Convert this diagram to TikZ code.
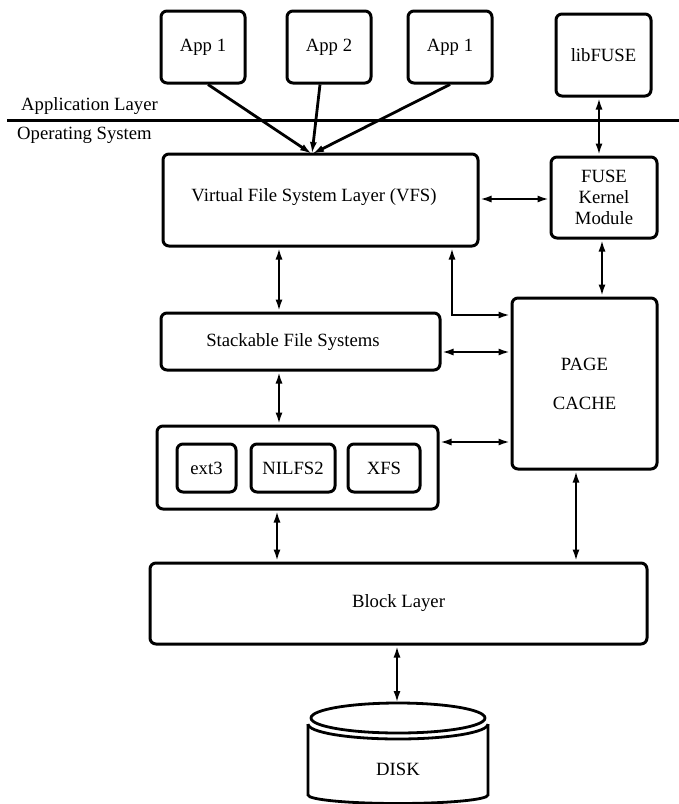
\documentclass[tikz,border=0pt]{standalone}
\usepackage{fontspec}
\setmainfont{Liberation Serif}
\usetikzlibrary{arrows.meta,calc}
\begin{document}
\begin{tikzpicture}[x=1pt,y=-1pt,
  font=\fontsize{18.7}{21}\selectfont,
  box/.style={draw, line width=3pt, rounded corners=6pt, inner sep=0pt, align=center},
  conn/.style={line width=2.8pt, -{Latex[length=12pt,width=7pt]}},
  dbl/.style={line width=2.8pt, {Latex[length=12pt,width=7pt]}-{Latex[length=12pt,width=7pt]}},
]
\useasboundingbox (0,0) rectangle (679,804);

% layer separator
\coordinate (sepL) at (7,120);
\coordinate (sepR) at (679,120);
\draw[line width=3pt] (sepL) -- (sepR);
\node[anchor=base west, inner sep=0pt] (applayer) at (21,110) {Application Layer};
\node[anchor=base west, inner sep=0pt] (oslayer) at (17,139) {Operating System};

% user space
\node[box, minimum width=84pt, minimum height=72pt] (app1) at (203,47) {App 1};
\node[box, minimum width=84pt, minimum height=72pt] (app2) at (329,47) {App 2};
\node[box, minimum width=84pt, minimum height=72pt] (app3) at (450,47) {App 1};
\node[box, minimum width=95pt, minimum height=82pt] (libfuse) at (603.5,55) {libFUSE};

% kernel
\node[box, minimum width=315pt, minimum height=92pt] (vfs) at (320.5,200) {};
\node (vfstext) at (314,197) {Virtual File System Layer (VFS)};
\node[box, minimum width=106pt, minimum height=81pt] (fuse) at (604,197.5) {FUSE\\Kernel\\Module};
\node[box, minimum width=279pt, minimum height=57pt] (stack) at (300.5,341.5) {};
\node (stacktext) at (293,342) {Stackable File Systems};
\node[box, minimum width=145pt, minimum height=171pt] (page) at (584.5,383.5) {PAGE\\[18pt]CACHE};
\node[box, minimum width=281pt, minimum height=83pt] (fsgroup) at (297.5,467.5) {};
\node[box, minimum width=59pt, minimum height=48pt] (ext) at (206.5,468) {ext3};
\node[box, minimum width=84pt, minimum height=48pt] (nilfs) at (293,468) {NILFS2};
\node[box, minimum width=72pt, minimum height=48pt] (xfs) at (384,468) {XFS};
\node[box, minimum width=497pt, minimum height=81pt] (block) at (398.5,603.5) {Block Layer};

% disk
\coordinate (disktop) at (397,703);
\draw[line width=2.8pt] (308,724) -- (308,795)
  arc[start angle=180, end angle=0, x radius=90, y radius=8.5] -- (488,724);
\draw[line width=2.8pt] (308,724) arc[start angle=180, end angle=0, x radius=90, y radius=15];
\draw[line width=2.8pt, fill=white] (398,718) ellipse [x radius=87, y radius=15];
\node (disk) at (398,769) {DISK};

% arrow positions
\coordinate (vfsin) at (312,154);
\coordinate (xa) at (279,0);
\coordinate (xb) at (277,0);
\coordinate (xl) at (452,0);
\coordinate (yl) at (0,315);
\coordinate (yf) at (0,199);
\coordinate (ys) at (0,352);
\coordinate (yg) at (0,442);
\coordinate (xp) at (576,0);
\coordinate (xf) at (599,0);
\coordinate (xk) at (602,0);
\coordinate (x1) at (208,0);
\coordinate (x2) at (320,0);
\coordinate (x3) at (450,0);

% connectors
\draw[conn] (app1.south -| x1) -- (vfsin);
\draw[conn] (app2.south -| x2) -- (vfsin);
\draw[conn] (app3.south -| x3) -- (vfsin);
\draw[dbl] (libfuse.south -| xf) -- (fuse.north -| xf);
\draw[dbl] (vfs.east |- yf) -- (fuse.west |- yf);
\draw[dbl] (fuse.south -| xk) -- (page.north -| xk);
\draw[dbl] (vfs.south -| xa) -- (stack.north -| xa);
\draw[dbl] (vfs.south -| xl) -- (xl |- yl) -- (page.west |- yl);
\draw[dbl] (stack.east |- ys) -- (page.west |- ys);
\draw[dbl] (stack.south -| xa) -- (fsgroup.north -| xa);
\draw[dbl] (fsgroup.east |- yg) -- (page.west |- yg);
\draw[dbl] (fsgroup.south -| xb) -- (block.north -| xb);
\draw[dbl] (page.south -| xp) -- (block.north -| xp);
\draw[dbl] (block.south -| disktop) -- (disktop);
\end{tikzpicture}
\end{document}
